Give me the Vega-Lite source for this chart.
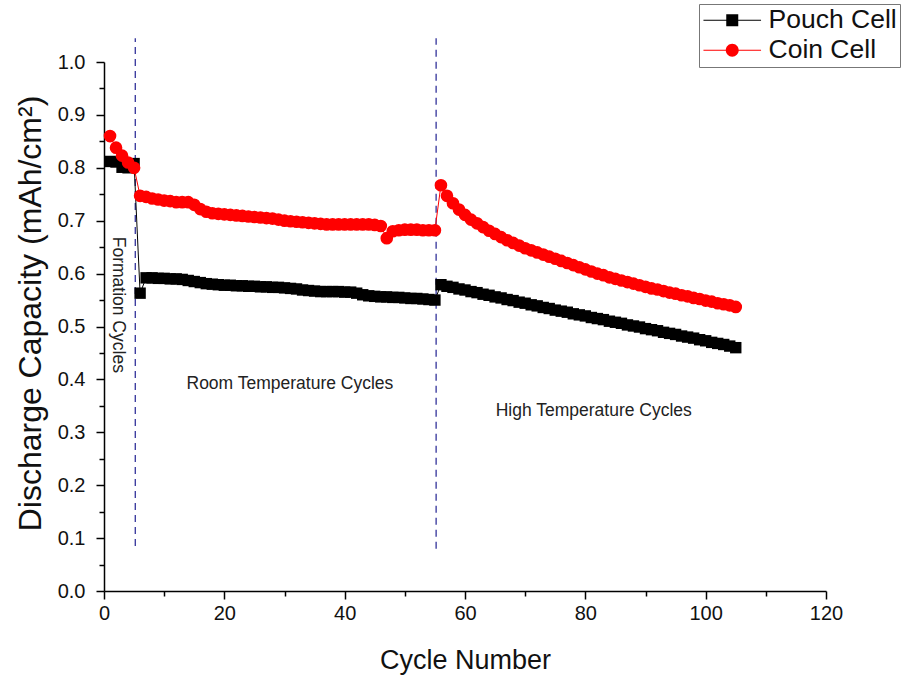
{
  "$schema": "https://vega.github.io/schema/vega-lite/v6.json",
  "width": 722,
  "height": 529,
  "autosize": {"type": "none"},
  "padding": {"left": 104, "top": 62, "right": 77, "bottom": 87},
  "background": "white",
  "config": {
    "view": {"stroke": null},
    "font": "Liberation Sans",
    "axis": {
      "domainColor": "black",
      "domainWidth": 1.5,
      "tickColor": "black",
      "tickWidth": 1.5,
      "grid": false,
      "labelFont": "Liberation Sans",
      "labelColor": "#111",
      "titleFont": "Liberation Sans",
      "titleFontWeight": "normal",
      "titleColor": "#111"
    },
    "legend": {
      "labelFont": "Liberation Sans",
      "labelFontSize": 26.5,
      "labelColor": "#111"
    }
  },
  "datasets": {
    "cells": [
      {"c": 1, "v": 0.812, "s": "Pouch Cell"},
      {"c": 2, "v": 0.811, "s": "Pouch Cell"},
      {"c": 3, "v": 0.801, "s": "Pouch Cell"},
      {"c": 4, "v": 0.800, "s": "Pouch Cell"},
      {"c": 5, "v": 0.808, "s": "Pouch Cell"},
      {"c": 6, "v": 0.563, "s": "Pouch Cell"},
      {"c": 7, "v": 0.592, "s": "Pouch Cell"},
      {"c": 8, "v": 0.592, "s": "Pouch Cell"},
      {"c": 9, "v": 0.591, "s": "Pouch Cell"},
      {"c": 10, "v": 0.591, "s": "Pouch Cell"},
      {"c": 11, "v": 0.590, "s": "Pouch Cell"},
      {"c": 12, "v": 0.590, "s": "Pouch Cell"},
      {"c": 13, "v": 0.589, "s": "Pouch Cell"},
      {"c": 14, "v": 0.587, "s": "Pouch Cell"},
      {"c": 15, "v": 0.585, "s": "Pouch Cell"},
      {"c": 16, "v": 0.583, "s": "Pouch Cell"},
      {"c": 17, "v": 0.581, "s": "Pouch Cell"},
      {"c": 18, "v": 0.580, "s": "Pouch Cell"},
      {"c": 19, "v": 0.579, "s": "Pouch Cell"},
      {"c": 20, "v": 0.578, "s": "Pouch Cell"},
      {"c": 21, "v": 0.578, "s": "Pouch Cell"},
      {"c": 22, "v": 0.577, "s": "Pouch Cell"},
      {"c": 23, "v": 0.577, "s": "Pouch Cell"},
      {"c": 24, "v": 0.576, "s": "Pouch Cell"},
      {"c": 25, "v": 0.576, "s": "Pouch Cell"},
      {"c": 26, "v": 0.575, "s": "Pouch Cell"},
      {"c": 27, "v": 0.575, "s": "Pouch Cell"},
      {"c": 28, "v": 0.574, "s": "Pouch Cell"},
      {"c": 29, "v": 0.574, "s": "Pouch Cell"},
      {"c": 30, "v": 0.573, "s": "Pouch Cell"},
      {"c": 31, "v": 0.572, "s": "Pouch Cell"},
      {"c": 32, "v": 0.571, "s": "Pouch Cell"},
      {"c": 33, "v": 0.569, "s": "Pouch Cell"},
      {"c": 34, "v": 0.568, "s": "Pouch Cell"},
      {"c": 35, "v": 0.567, "s": "Pouch Cell"},
      {"c": 36, "v": 0.566, "s": "Pouch Cell"},
      {"c": 37, "v": 0.566, "s": "Pouch Cell"},
      {"c": 38, "v": 0.566, "s": "Pouch Cell"},
      {"c": 39, "v": 0.566, "s": "Pouch Cell"},
      {"c": 40, "v": 0.565, "s": "Pouch Cell"},
      {"c": 41, "v": 0.565, "s": "Pouch Cell"},
      {"c": 42, "v": 0.563, "s": "Pouch Cell"},
      {"c": 43, "v": 0.560, "s": "Pouch Cell"},
      {"c": 44, "v": 0.558, "s": "Pouch Cell"},
      {"c": 45, "v": 0.557, "s": "Pouch Cell"},
      {"c": 46, "v": 0.556, "s": "Pouch Cell"},
      {"c": 47, "v": 0.556, "s": "Pouch Cell"},
      {"c": 48, "v": 0.555, "s": "Pouch Cell"},
      {"c": 49, "v": 0.555, "s": "Pouch Cell"},
      {"c": 50, "v": 0.554, "s": "Pouch Cell"},
      {"c": 51, "v": 0.553, "s": "Pouch Cell"},
      {"c": 52, "v": 0.553, "s": "Pouch Cell"},
      {"c": 53, "v": 0.552, "s": "Pouch Cell"},
      {"c": 54, "v": 0.551, "s": "Pouch Cell"},
      {"c": 55, "v": 0.550, "s": "Pouch Cell"},
      {"c": 56, "v": 0.579, "s": "Pouch Cell"},
      {"c": 57, "v": 0.576, "s": "Pouch Cell"},
      {"c": 58, "v": 0.574, "s": "Pouch Cell"},
      {"c": 59, "v": 0.571, "s": "Pouch Cell"},
      {"c": 60, "v": 0.569, "s": "Pouch Cell"},
      {"c": 61, "v": 0.566, "s": "Pouch Cell"},
      {"c": 62, "v": 0.564, "s": "Pouch Cell"},
      {"c": 63, "v": 0.561, "s": "Pouch Cell"},
      {"c": 64, "v": 0.559, "s": "Pouch Cell"},
      {"c": 65, "v": 0.556, "s": "Pouch Cell"},
      {"c": 66, "v": 0.554, "s": "Pouch Cell"},
      {"c": 67, "v": 0.551, "s": "Pouch Cell"},
      {"c": 68, "v": 0.549, "s": "Pouch Cell"},
      {"c": 69, "v": 0.546, "s": "Pouch Cell"},
      {"c": 70, "v": 0.544, "s": "Pouch Cell"},
      {"c": 71, "v": 0.541, "s": "Pouch Cell"},
      {"c": 72, "v": 0.539, "s": "Pouch Cell"},
      {"c": 73, "v": 0.536, "s": "Pouch Cell"},
      {"c": 74, "v": 0.534, "s": "Pouch Cell"},
      {"c": 75, "v": 0.531, "s": "Pouch Cell"},
      {"c": 76, "v": 0.529, "s": "Pouch Cell"},
      {"c": 77, "v": 0.527, "s": "Pouch Cell"},
      {"c": 78, "v": 0.524, "s": "Pouch Cell"},
      {"c": 79, "v": 0.522, "s": "Pouch Cell"},
      {"c": 80, "v": 0.520, "s": "Pouch Cell"},
      {"c": 81, "v": 0.517, "s": "Pouch Cell"},
      {"c": 82, "v": 0.515, "s": "Pouch Cell"},
      {"c": 83, "v": 0.513, "s": "Pouch Cell"},
      {"c": 84, "v": 0.510, "s": "Pouch Cell"},
      {"c": 85, "v": 0.508, "s": "Pouch Cell"},
      {"c": 86, "v": 0.506, "s": "Pouch Cell"},
      {"c": 87, "v": 0.503, "s": "Pouch Cell"},
      {"c": 88, "v": 0.501, "s": "Pouch Cell"},
      {"c": 89, "v": 0.499, "s": "Pouch Cell"},
      {"c": 90, "v": 0.496, "s": "Pouch Cell"},
      {"c": 91, "v": 0.494, "s": "Pouch Cell"},
      {"c": 92, "v": 0.492, "s": "Pouch Cell"},
      {"c": 93, "v": 0.489, "s": "Pouch Cell"},
      {"c": 94, "v": 0.487, "s": "Pouch Cell"},
      {"c": 95, "v": 0.485, "s": "Pouch Cell"},
      {"c": 96, "v": 0.482, "s": "Pouch Cell"},
      {"c": 97, "v": 0.480, "s": "Pouch Cell"},
      {"c": 98, "v": 0.478, "s": "Pouch Cell"},
      {"c": 99, "v": 0.475, "s": "Pouch Cell"},
      {"c": 100, "v": 0.473, "s": "Pouch Cell"},
      {"c": 101, "v": 0.470, "s": "Pouch Cell"},
      {"c": 102, "v": 0.468, "s": "Pouch Cell"},
      {"c": 103, "v": 0.466, "s": "Pouch Cell"},
      {"c": 104, "v": 0.463, "s": "Pouch Cell"},
      {"c": 105, "v": 0.460, "s": "Pouch Cell"},
      {"c": 1, "v": 0.860, "s": "Coin Cell"},
      {"c": 2, "v": 0.838, "s": "Coin Cell"},
      {"c": 3, "v": 0.823, "s": "Coin Cell"},
      {"c": 4, "v": 0.810, "s": "Coin Cell"},
      {"c": 5, "v": 0.800, "s": "Coin Cell"},
      {"c": 6, "v": 0.747, "s": "Coin Cell"},
      {"c": 7, "v": 0.745, "s": "Coin Cell"},
      {"c": 8, "v": 0.742, "s": "Coin Cell"},
      {"c": 9, "v": 0.740, "s": "Coin Cell"},
      {"c": 10, "v": 0.738, "s": "Coin Cell"},
      {"c": 11, "v": 0.737, "s": "Coin Cell"},
      {"c": 12, "v": 0.735, "s": "Coin Cell"},
      {"c": 13, "v": 0.735, "s": "Coin Cell"},
      {"c": 14, "v": 0.735, "s": "Coin Cell"},
      {"c": 15, "v": 0.730, "s": "Coin Cell"},
      {"c": 16, "v": 0.722, "s": "Coin Cell"},
      {"c": 17, "v": 0.717, "s": "Coin Cell"},
      {"c": 18, "v": 0.714, "s": "Coin Cell"},
      {"c": 19, "v": 0.713, "s": "Coin Cell"},
      {"c": 20, "v": 0.712, "s": "Coin Cell"},
      {"c": 21, "v": 0.711, "s": "Coin Cell"},
      {"c": 22, "v": 0.710, "s": "Coin Cell"},
      {"c": 23, "v": 0.709, "s": "Coin Cell"},
      {"c": 24, "v": 0.708, "s": "Coin Cell"},
      {"c": 25, "v": 0.707, "s": "Coin Cell"},
      {"c": 26, "v": 0.706, "s": "Coin Cell"},
      {"c": 27, "v": 0.705, "s": "Coin Cell"},
      {"c": 28, "v": 0.704, "s": "Coin Cell"},
      {"c": 29, "v": 0.702, "s": "Coin Cell"},
      {"c": 30, "v": 0.700, "s": "Coin Cell"},
      {"c": 31, "v": 0.699, "s": "Coin Cell"},
      {"c": 32, "v": 0.698, "s": "Coin Cell"},
      {"c": 33, "v": 0.697, "s": "Coin Cell"},
      {"c": 34, "v": 0.696, "s": "Coin Cell"},
      {"c": 35, "v": 0.695, "s": "Coin Cell"},
      {"c": 36, "v": 0.694, "s": "Coin Cell"},
      {"c": 37, "v": 0.693, "s": "Coin Cell"},
      {"c": 38, "v": 0.693, "s": "Coin Cell"},
      {"c": 39, "v": 0.693, "s": "Coin Cell"},
      {"c": 40, "v": 0.693, "s": "Coin Cell"},
      {"c": 41, "v": 0.693, "s": "Coin Cell"},
      {"c": 42, "v": 0.693, "s": "Coin Cell"},
      {"c": 43, "v": 0.693, "s": "Coin Cell"},
      {"c": 44, "v": 0.693, "s": "Coin Cell"},
      {"c": 45, "v": 0.692, "s": "Coin Cell"},
      {"c": 46, "v": 0.690, "s": "Coin Cell"},
      {"c": 47, "v": 0.667, "s": "Coin Cell"},
      {"c": 48, "v": 0.680, "s": "Coin Cell"},
      {"c": 49, "v": 0.682, "s": "Coin Cell"},
      {"c": 50, "v": 0.683, "s": "Coin Cell"},
      {"c": 51, "v": 0.683, "s": "Coin Cell"},
      {"c": 52, "v": 0.683, "s": "Coin Cell"},
      {"c": 53, "v": 0.682, "s": "Coin Cell"},
      {"c": 54, "v": 0.682, "s": "Coin Cell"},
      {"c": 55, "v": 0.682, "s": "Coin Cell"},
      {"c": 56, "v": 0.767, "s": "Coin Cell"},
      {"c": 57, "v": 0.747, "s": "Coin Cell"},
      {"c": 58, "v": 0.733, "s": "Coin Cell"},
      {"c": 59, "v": 0.721, "s": "Coin Cell"},
      {"c": 60, "v": 0.711, "s": "Coin Cell"},
      {"c": 61, "v": 0.702, "s": "Coin Cell"},
      {"c": 62, "v": 0.695, "s": "Coin Cell"},
      {"c": 63, "v": 0.688, "s": "Coin Cell"},
      {"c": 64, "v": 0.681, "s": "Coin Cell"},
      {"c": 65, "v": 0.675, "s": "Coin Cell"},
      {"c": 66, "v": 0.669, "s": "Coin Cell"},
      {"c": 67, "v": 0.663, "s": "Coin Cell"},
      {"c": 68, "v": 0.658, "s": "Coin Cell"},
      {"c": 69, "v": 0.653, "s": "Coin Cell"},
      {"c": 70, "v": 0.648, "s": "Coin Cell"},
      {"c": 71, "v": 0.644, "s": "Coin Cell"},
      {"c": 72, "v": 0.640, "s": "Coin Cell"},
      {"c": 73, "v": 0.636, "s": "Coin Cell"},
      {"c": 74, "v": 0.632, "s": "Coin Cell"},
      {"c": 75, "v": 0.628, "s": "Coin Cell"},
      {"c": 76, "v": 0.624, "s": "Coin Cell"},
      {"c": 77, "v": 0.620, "s": "Coin Cell"},
      {"c": 78, "v": 0.616, "s": "Coin Cell"},
      {"c": 79, "v": 0.612, "s": "Coin Cell"},
      {"c": 80, "v": 0.608, "s": "Coin Cell"},
      {"c": 81, "v": 0.604, "s": "Coin Cell"},
      {"c": 82, "v": 0.600, "s": "Coin Cell"},
      {"c": 83, "v": 0.597, "s": "Coin Cell"},
      {"c": 84, "v": 0.593, "s": "Coin Cell"},
      {"c": 85, "v": 0.590, "s": "Coin Cell"},
      {"c": 86, "v": 0.587, "s": "Coin Cell"},
      {"c": 87, "v": 0.584, "s": "Coin Cell"},
      {"c": 88, "v": 0.581, "s": "Coin Cell"},
      {"c": 89, "v": 0.578, "s": "Coin Cell"},
      {"c": 90, "v": 0.575, "s": "Coin Cell"},
      {"c": 91, "v": 0.572, "s": "Coin Cell"},
      {"c": 92, "v": 0.570, "s": "Coin Cell"},
      {"c": 93, "v": 0.567, "s": "Coin Cell"},
      {"c": 94, "v": 0.564, "s": "Coin Cell"},
      {"c": 95, "v": 0.562, "s": "Coin Cell"},
      {"c": 96, "v": 0.559, "s": "Coin Cell"},
      {"c": 97, "v": 0.557, "s": "Coin Cell"},
      {"c": 98, "v": 0.554, "s": "Coin Cell"},
      {"c": 99, "v": 0.552, "s": "Coin Cell"},
      {"c": 100, "v": 0.549, "s": "Coin Cell"},
      {"c": 101, "v": 0.547, "s": "Coin Cell"},
      {"c": 102, "v": 0.544, "s": "Coin Cell"},
      {"c": 103, "v": 0.542, "s": "Coin Cell"},
      {"c": 104, "v": 0.540, "s": "Coin Cell"},
      {"c": 105, "v": 0.537, "s": "Coin Cell"}
    ],
    "dividers": [
      {"c": 5.2, "lo": 0.085, "hi": 1.045},
      {"c": 55.2, "lo": 0.08, "hi": 1.045}
    ],
    "notes": [
      {"c": 2.3, "v": 0.541, "t": "Formation Cycles", "a": 90},
      {"c": 30.9, "v": 0.391, "t": "Room Temperature Cycles", "a": 0},
      {"c": 81.4, "v": 0.340, "t": "High Temperature Cycles", "a": 0}
    ]
  },
  "encoding": {
    "x": {
      "field": "c",
      "type": "quantitative",
      "scale": {"domain": [0, 120], "nice": false, "zero": false},
      "axis": {
        "title": "Cycle Number",
        "titleFontSize": 27,
        "titleX": 361,
        "titleY": 69,
        "titleBaseline": "middle",
        "titleAlign": "center",
        "values": [0, 10, 20, 30, 40, 50, 60, 70, 80, 90, 100, 110, 120],
        "labelExpr": "datum.value % 20 === 0 ? datum.label : ''",
        "labelFontSize": 20,
        "labelPadding": 4,
        "tickSize": {"condition": {"test": "datum.value % 20 === 0", "value": 8}, "value": 5},
        "labelFlush": false,
        "labelOverlap": false
      }
    },
    "y": {
      "field": "v",
      "type": "quantitative",
      "scale": {"domain": [0, 1], "nice": false},
      "axis": {
        "title": "Discharge Capacity (mAh/cm²)",
        "titleFontSize": 32,
        "titleX": -74,
        "titleY": 251,
        "titleBaseline": "middle",
        "titleAlign": "center",
        "titleAngle": -90,
        "values": [0, 0.05, 0.1, 0.15, 0.2, 0.25, 0.3, 0.35, 0.4, 0.45, 0.5, 0.55, 0.6, 0.65, 0.7, 0.75, 0.8, 0.85, 0.9, 0.95, 1.0],
        "format": ".1f",
        "labelExpr": "round(datum.value * 100) % 10 === 0 ? datum.label : ''",
        "labelFontSize": 20,
        "labelPadding": 11,
        "tickSize": {"condition": {"test": "round(datum.value * 100) % 10 === 0", "value": 8}, "value": 5},
        "labelFlush": false,
        "labelOverlap": false
      }
    }
  },
  "layer": [
    {
      "data": {"name": "dividers"},
      "mark": {"type": "rule", "color": "#33339a", "strokeWidth": 1.3, "strokeDash": [7, 5]},
      "encoding": {
        "x": {"field": "c", "type": "quantitative"},
        "y": {"field": "lo", "type": "quantitative"},
        "y2": {"field": "hi"}
      }
    },
    {
      "data": {"name": "cells"},
      "transform": [{"filter": "datum.s === 'Pouch Cell'"}],
      "mark": {"type": "line", "strokeWidth": 1, "color": "#000000"},
      "encoding": {}
    },
    {
      "data": {"name": "cells"},
      "transform": [{"filter": "datum.s === 'Pouch Cell'"}],
      "mark": {"type": "point", "filled": true, "opacity": 1, "shape": "square", "size": 130},
      "encoding": {
        "color": {
          "field": "s",
          "type": "nominal",
          "scale": {"domain": ["Pouch Cell", "Coin Cell"], "range": ["#000000", "#ff0000"]},
          "legend": {
            "title": null,
            "orient": "none",
            "legendX": 595,
            "legendY": -58,
            "padding": 3,
            "strokeColor": "#777",
            "fillColor": "white",
            "symbolSize": 144,
            "symbolOffset": 17,
            "labelOffset": 23,
            "rowPadding": 3,
            "symbolType": {"expr": "datum.value === 'Pouch Cell' ? 'M-4.8,-0.09H4.8V0.09H-4.8ZM-1,-1H1V1H-1Z' : 'M-4.8,-0.09H4.8V0.09H-4.8ZM-1.08,0A1.08,1.08,0,1,1,1.08,0A1.08,1.08,0,1,1,-1.08,0Z'"}
          }
        }
      }
    },
    {
      "data": {"name": "cells"},
      "transform": [{"filter": "datum.s === 'Coin Cell'"}],
      "mark": {"type": "line", "strokeWidth": 1, "color": "#ff0000"},
      "encoding": {}
    },
    {
      "data": {"name": "cells"},
      "transform": [{"filter": "datum.s === 'Coin Cell'"}],
      "mark": {"type": "point", "filled": true, "opacity": 1, "shape": "circle", "size": 160},
      "encoding": {
        "color": {
          "field": "s",
          "type": "nominal",
          "scale": {"domain": ["Pouch Cell", "Coin Cell"], "range": ["#000000", "#ff0000"]},
          "legend": {
            "title": null,
            "orient": "none",
            "legendX": 595,
            "legendY": -58,
            "padding": 3,
            "strokeColor": "#777",
            "fillColor": "white",
            "symbolSize": 144,
            "symbolOffset": 17,
            "labelOffset": 23,
            "rowPadding": 3,
            "symbolType": {"expr": "datum.value === 'Pouch Cell' ? 'M-4.8,-0.09H4.8V0.09H-4.8ZM-1,-1H1V1H-1Z' : 'M-4.8,-0.09H4.8V0.09H-4.8ZM-1.08,0A1.08,1.08,0,1,1,1.08,0A1.08,1.08,0,1,1,-1.08,0Z'"}
          }
        }
      }
    },
    {
      "data": {"name": "notes"},
      "mark": {"type": "text", "fontSize": 17.5, "font": "Liberation Sans", "color": "#222", "align": "center", "baseline": "middle"},
      "encoding": {
        "y": {"field": "v", "type": "quantitative"},
        "text": {"field": "t"},
        "angle": {"field": "a", "type": "quantitative", "scale": null}
      }
    }
  ]
}
